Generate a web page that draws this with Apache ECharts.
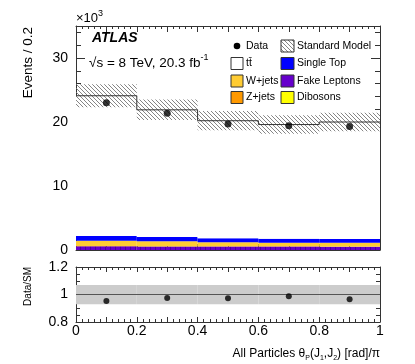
<!DOCTYPE html>
<html>
<head>
<meta charset="utf-8">
<script src="https://cdn.jsdelivr.net/npm/echarts@6/dist/echarts.min.js"></script>
<style>
  html, body { margin: 0; padding: 0; background: #fff; }
  #chart { width: 415px; height: 364px; }
</style>
</head>
<body>
<div id="chart"></div>
<script>
// bins of theta_P(J1,J2) [rad]/pi
var binEdges = [0, 0.2, 0.4, 0.6, 0.8, 1.0];

// events per bin (x10^3)
var dataVals = [23.0, 21.35, 19.7, 19.4, 19.3];
var fakeVals = [0.57, 0.56, 0.54, 0.53, 0.52];
var dibosonVals = [0.02, 0.02, 0.02, 0.02, 0.02];
var zjetsVals = [0.03, 0.03, 0.03, 0.03, 0.03];
var wjetsVals = [0.83, 0.75, 0.61, 0.57, 0.57];
var singleTopVals = [0.74, 0.67, 0.65, 0.60, 0.58];
var ttbarVals = [21.91, 19.87, 18.35, 17.85, 18.28];
var smUncVals = [1.8, 1.6, 1.5, 1.45, 1.45];

// lower panel
var ratioVals = [0.953, 0.975, 0.972, 0.987, 0.965];
var ratioUncVals = [0.07, 0.07, 0.07, 0.07, 0.07];

var FONT = "'Liberation Sans', Arial, Helvetica, sans-serif";

function makeHatch(size, color) {
  var c = document.createElement("canvas");
  c.width = c.height = size;
  var ctx = c.getContext("2d");
  ctx.strokeStyle = color;
  ctx.lineWidth = 0.9;
  ctx.beginPath();
  for (var k = -size; k <= size; k += size) {
    ctx.moveTo(k, 0);
    ctx.lineTo(k + size, size);
  }
  ctx.stroke();
  return c;
}

function makeFakePattern() {
  var c = document.createElement("canvas");
  c.width = 5;
  c.height = 4;
  var ctx = c.getContext("2d");
  ctx.fillStyle = "#6600cc";
  ctx.fillRect(0, 0, 5, 4);
  ctx.fillStyle = "#4a0099";
  ctx.fillRect(0, 0, 1, 4);
  return c;
}

var hatchFill = { image: makeHatch(4, "#777"), repeat: "repeat" };
var fakeFill = { image: makeFakePattern(), repeat: "repeat" };

function boxSeries(rows, fill, z, xi, yi) {
  return {
    type: "custom",
    xAxisIndex: xi,
    yAxisIndex: yi,
    z: z,
    clip: true,
    silent: true,
    renderItem: function (params, api) {
      var a = api.coord([api.value(0), api.value(3)]);
      var b = api.coord([api.value(1), api.value(2)]);
      return {
        type: "rect",
        shape: { x: a[0], y: a[1], width: b[0] - a[0], height: b[1] - a[1] },
        style: { fill: fill },
      };
    },
    data: rows,
  };
}

// stacked backgrounds, bottom to top
var stack = [
  { vals: fakeVals, fill: fakeFill },
  { vals: dibosonVals, fill: "#ffff00" },
  { vals: zjetsVals, fill: "#ff9900" },
  { vals: wjetsVals, fill: "#ffcc33" },
  { vals: singleTopVals, fill: "#0000ff" },
  { vals: ttbarVals, fill: "#ffffff" },
];

var series = [];
var base = dataVals.map(function () { return 0; });
stack.forEach(function (s) {
  var rows = s.vals.map(function (v, i) {
    var r = [binEdges[i], binEdges[i + 1], base[i], base[i] + v];
    base[i] += v;
    return r;
  });
  series.push(boxSeries(rows, s.fill, 1, 0, 0));
});
var smVals = base.slice();

// uncertainty band
series.push(boxSeries(smVals.map(function (v, i) {
  return [binEdges[i], binEdges[i + 1], v - smUncVals[i], v + smUncVals[i]];
}), hatchFill, 2, 0, 0));

// SM outline
var stepPts = binEdges.map(function (x, i) {
  return [x, smVals[Math.min(i, smVals.length - 1)]];
});
series.push({
  type: "line", step: "end", xAxisIndex: 0, yAxisIndex: 0, z: 3,
  symbol: "none", silent: true,
  lineStyle: { color: "#333", width: 1 },
  data: stepPts,
});

var centers = dataVals.map(function (v, i) { return (binEdges[i] + binEdges[i + 1]) / 2; });

series.push({
  type: "scatter", xAxisIndex: 0, yAxisIndex: 0, z: 4,
  symbol: "circle", symbolSize: 7, silent: true,
  itemStyle: { color: "#000" },
  data: dataVals.map(function (v, i) { return [centers[i], v]; }),
});

// ratio panel
series.push(boxSeries(ratioUncVals.map(function (e, i) {
  return [binEdges[i], binEdges[i + 1], 1 - e, 1 + e];
}), "#cccccc", 1, 2, 4));
series.push({
  type: "line", xAxisIndex: 2, yAxisIndex: 4, z: 3,
  symbol: "none", silent: true,
  lineStyle: { color: "#555", width: 1 },
  data: [[0, 1], [1, 1]],
});
series.push({
  type: "scatter", xAxisIndex: 2, yAxisIndex: 4, z: 4,
  symbol: "circle", symbolSize: 6, silent: true,
  itemStyle: { color: "#000" },
  data: ratioVals.map(function (v, i) { return [centers[i], v]; }),
});

var lineCol = "#333";

function xAx(grid, pos, showLabel, major, minor) {
  return {
    type: "value", gridIndex: grid, position: pos, min: 0, max: 1, interval: 0.1,
    axisLine: { show: true, onZero: false, lineStyle: { color: lineCol, width: 1 } },
    axisTick: { show: true, inside: true, length: major, lineStyle: { color: lineCol } },
    minorTick: { show: true, splitNumber: 5, length: minor, lineStyle: { color: lineCol } },
    splitLine: { show: false },
    axisLabel: {
      show: showLabel, margin: 2, color: "#000", fontSize: 14, fontFamily: FONT,
      formatter: function (v) {
        var k = Math.round(v * 10);
        return k % 2 ? "" : String(+v.toFixed(1));
      },
    },
  };
}

function yAx(grid, pos, min, max, interval, showLabel, major, minorSplit, minor, lineShow) {
  var ax = {
    type: "value", gridIndex: grid, position: pos, min: min, max: max, interval: interval,
    axisLine: { show: lineShow, onZero: false, lineStyle: { color: lineCol, width: 1 } },
    axisTick: { show: true, inside: true, length: major, lineStyle: { color: lineCol } },
    splitLine: { show: false },
    axisLabel: {
      show: showLabel, margin: 8, color: "#000", fontSize: 14, fontFamily: FONT,
      formatter: function (v) {
        if (grid === 0) return v % 10 === 0 ? String(v) : "";
        return String(+v.toFixed(1));
      },
    },
  };
  if (minorSplit) {
    ax.minorTick = { show: true, splitNumber: minorSplit, length: minor, lineStyle: { color: lineCol } };
  }
  return ax;
}

var txt = function (o) {
  var st = Object.assign({ fill: "#000", fontFamily: FONT }, o.style);
  return { type: "text", x: o.x, y: o.y, rotation: o.rotation || 0, silent: true, z: 10, style: st };
};

function legendBox(x, y, w, fill) {
  return { type: "rect", silent: true, z: 10,
    shape: { x: x, y: y, width: w, height: 12 },
    style: { fill: fill, stroke: "#333", lineWidth: 1 } };
}

function legendText(x, y, s) {
  return txt({ x: x, y: y, style: { text: s, fontSize: 10.5, align: "left", verticalAlign: "middle",
    textAlign: "left", textVerticalAlign: "middle" } });
}

var chart = echarts.init(document.getElementById("chart"), null, { renderer: "canvas" });

chart.setOption({
  animation: false,
  backgroundColor: "#fff",
  grid: [
    { left: 76, top: 26, width: 304, height: 224 },
    { left: 76, top: 267, width: 304, height: 55 },
  ],
  xAxis: [
    xAx(0, "bottom", false, 6, 3),
    xAx(0, "top", false, 6, 3),
    xAx(1, "bottom", true, 5, 3),
    xAx(1, "top", false, 5, 3),
  ],
  yAxis: [
    yAx(0, "left", 0, 35, 10, true, 9, 0, 0, true),
    yAx(0, "left", 0, 35, 2, false, 5, 0, 0, false),
    yAx(0, "right", 0, 35, 10, false, 9, 0, 0, true),
    yAx(0, "right", 0, 35, 2, false, 5, 0, 0, false),
    yAx(1, "left", 0.8, 1.2, 0.2, true, 7, 4, 4, true),
    yAx(1, "right", 0.8, 1.2, 0.2, false, 7, 4, 4, true),
  ],
  series: series,
  graphic: [
    txt({ x: 76, y: 25, style: { text: "{a|×10}{b|3}", align: "left", verticalAlign: "bottom",
      textAlign: "left", textVerticalAlign: "bottom",
      rich: { a: { fontSize: 13, fontFamily: FONT, lineHeight: 16, verticalAlign: "bottom" },
              b: { fontSize: 9, fontFamily: FONT, lineHeight: 16, verticalAlign: "top" } } } }),
    txt({ x: 92, y: 38, style: { text: "ATLAS", fontSize: 14, fontWeight: "bold", fontStyle: "italic",
      align: "left", verticalAlign: "middle", textAlign: "left", textVerticalAlign: "middle" } }),
    txt({ x: 89, y: 62, style: { text: "{a|√s = 8 TeV, 20.3 fb}{b|-1}", align: "left", verticalAlign: "middle",
      textAlign: "left", textVerticalAlign: "middle",
      rich: { a: { fontSize: 13.5, fontFamily: FONT, lineHeight: 17, verticalAlign: "bottom" },
              b: { fontSize: 9, fontFamily: FONT, lineHeight: 17, verticalAlign: "top" } } } }),
    txt({ x: 28, y: 27, rotation: Math.PI / 2, style: { text: "Events / 0.2", fontSize: 13.5,
      align: "right", verticalAlign: "middle", textAlign: "right", textVerticalAlign: "middle" } }),
    txt({ x: 28, y: 267, rotation: Math.PI / 2, style: { text: "Data/SM", fontSize: 10,
      align: "right", verticalAlign: "middle", textAlign: "right", textVerticalAlign: "middle" } }),
    txt({ x: 380, y: 354, style: { text: "{a|All Particles θ}{s|P}{a|(J}{s|1}{a|,J}{s|2}{a|) [rad]/π}",
      align: "right", verticalAlign: "middle", textAlign: "right", textVerticalAlign: "middle",
      rich: { a: { fontSize: 12, fontFamily: FONT, lineHeight: 16, verticalAlign: "middle" },
              s: { fontSize: 7, fontFamily: FONT, lineHeight: 16, verticalAlign: "bottom" } } } }),

    // legend
    { type: "circle", silent: true, z: 10, shape: { cx: 237, cy: 46, r: 3.3 }, style: { fill: "#000" } },
    legendText(246, 46, "Data"),
    legendBox(281, 40, 13, hatchFill),
    legendText(297, 46, "Standard Model"),
    legendBox(231, 57.5, 12, "#ffffff"),
    legendText(246, 63.5, "tt\u0304"),
    legendBox(281, 57.5, 13, "#0000ff"),
    legendText(297, 63.5, "Single Top"),
    legendBox(231, 75, 12, "#ffcc33"),
    legendText(246, 81, "W+jets"),
    legendBox(281, 75, 13, "#6600cc"),
    legendText(297, 81, "Fake Leptons"),
    legendBox(231, 91.5, 12, "#ff9900"),
    legendText(246, 97.5, "Z+jets"),
    legendBox(281, 91.5, 13, "#ffff00"),
    legendText(297, 97.5, "Dibosons"),
  ],
});
</script>
</body>
</html>
